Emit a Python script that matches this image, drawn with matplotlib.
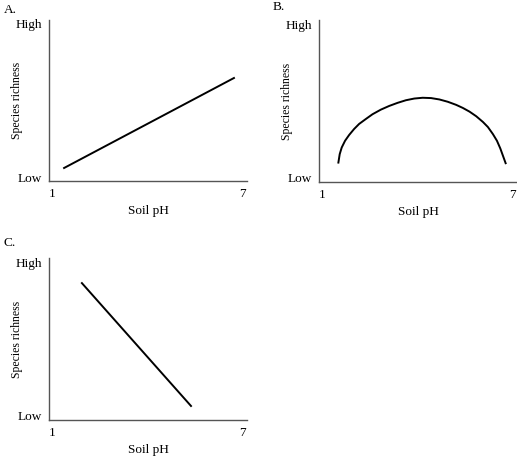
import matplotlib
matplotlib.use("Agg")
import matplotlib.pyplot as plt

plt.rcParams['font.family'] = ['Liberation Serif', 'DejaVu Serif']

# values (x = soil pH, y = richness on 0 (Low) .. 10 (High))
a_ph = [1.38, 6.72]
a_rich = [0.59, 6.47]

b_ph = [1.515, 1.557, 1.620, 1.726, 1.852, 2.009, 2.167, 2.378, 2.588, 2.851,
        3.114, 3.376, 3.639, 3.902, 4.165, 4.428, 4.691, 4.954, 5.217, 5.427,
        5.637, 5.848, 6.058, 6.215, 6.373, 6.499, 6.605, 6.689, 6.773]
b_rich = [1.00, 1.55, 1.98, 2.42, 2.79, 3.18, 3.51, 3.83, 4.14, 4.44,
          4.68, 4.88, 5.05, 5.16, 5.21, 5.19, 5.10, 4.95, 4.75, 4.55,
          4.31, 4.01, 3.64, 3.31, 2.85, 2.42, 1.92, 1.44, 0.96]

c_ph = [1.94, 5.37]
c_rich = [8.63, 0.65]

x_ticks = [1, 7]
x_ticklabels = ["1", "7"]
y_ticks = [0, 10]
y_ticklabels = ["Low", "High"]
panels = ["A.", "B.", "C."]

W, H = 517, 462
fig = plt.figure(figsize=(W / 100, H / 100), dpi=100)


def make_ax(left, top, right, bottom):
    ax = fig.add_axes([left / W, 1 - bottom / H, (right - left) / W, (bottom - top) / H])
    ax.set_xlim(0.906, 7.13)
    ax.set_ylim(-0.26, 10.26)
    for s in ["top", "right"]:
        ax.spines[s].set_visible(False)
    for s in ["left", "bottom"]:
        ax.spines[s].set_color("#555555")
        ax.spines[s].set_linewidth(1.0)
    ax.set_xticks(x_ticks)
    ax.set_xticklabels(x_ticklabels)
    ax.set_yticks(y_ticks)
    ax.set_yticklabels(y_ticklabels)
    ax.tick_params(length=0, labelsize=9.5, pad=5)
    ax.set_xlabel("Soil pH", fontsize=9.5, labelpad=3.5)
    ax.set_ylabel("Species richness", fontsize=8.5)
    ax.yaxis.set_label_coords(-26 / (right - left), 0.5)
    return ax


ax_a = make_ax(49, 20, 247, 181)
ax_a.plot(a_ph, a_rich, color="black", lw=1.4)

ax_b = make_ax(319, 20, 517, 182)
ax_b.plot(b_ph, b_rich, color="black", lw=1.4, solid_joinstyle="round")

ax_c = make_ax(49, 258, 247, 420)
ax_c.plot(c_ph, c_rich, color="black", lw=1.4)

fig.text(4 / W, 1 - 10 / H, panels[0], fontsize=9.5, va="center")
fig.text(273 / W, 1 - 7 / H, panels[1], fontsize=9.5, va="center")
fig.text(4 / W, 1 - 243 / H, panels[2], fontsize=9.5, va="center")

fig.savefig("out.png", dpi=100)
